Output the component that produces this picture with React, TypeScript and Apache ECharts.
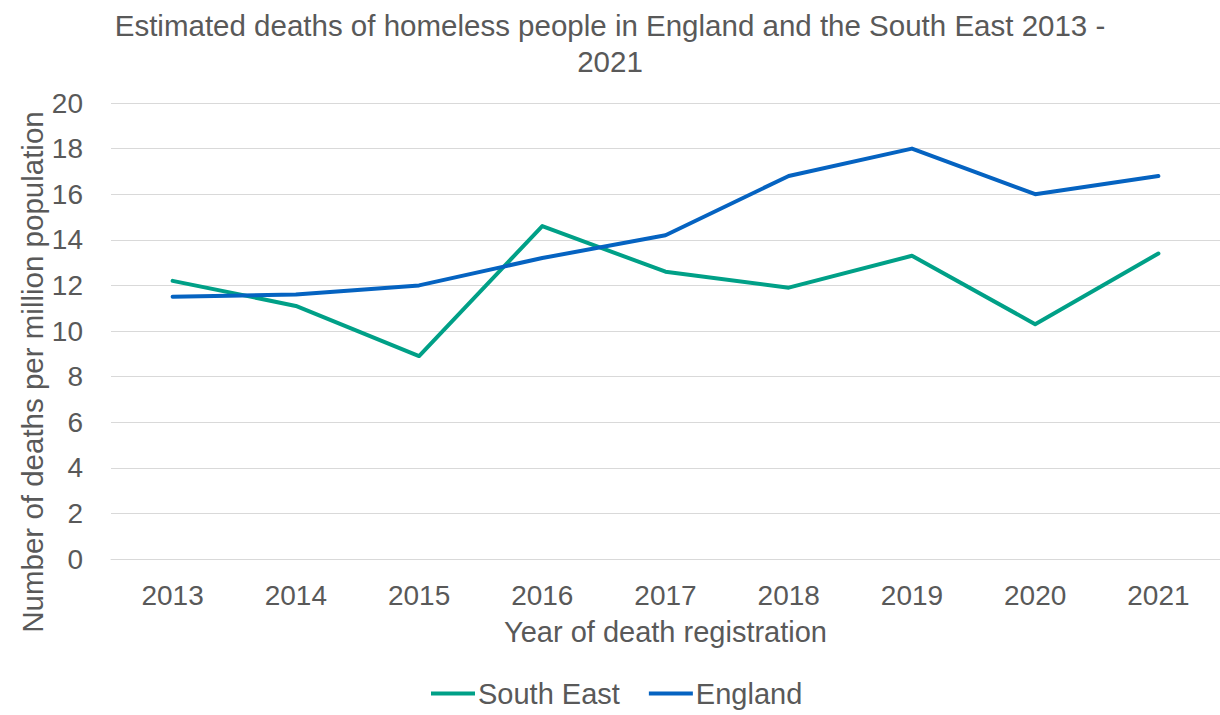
import React, { useEffect, useRef } from "react";
import * as echarts from "echarts";

const years = ["2013", "2014", "2015", "2016", "2017", "2018", "2019", "2020", "2021"];
const southEast = [12.2, 11.1, 8.9, 14.6, 12.6, 11.9, 13.3, 10.3, 13.4];
const england = [11.5, 11.6, 12.0, 13.2, 14.2, 16.8, 18.0, 16.0, 16.8];
const yTicks = { min: 0, max: 20, interval: 2 };

const FONT = "'Liberation Sans', Arial, sans-serif";
const GREY = "#595959";

export default function App() {
  const ref = useRef<HTMLDivElement>(null);
  useEffect(() => {
    if (!ref.current) return;
    const chart = echarts.init(ref.current, undefined, { renderer: "svg" });
    chart.setOption({
      animation: false,
      textStyle: { fontFamily: FONT },
      title: {
        text: "Estimated deaths of homeless people in England and the South East 2013 -\n2021",
        left: "center",
        top: 2,
        textStyle: { fontFamily: FONT, fontSize: 29.5, fontWeight: "normal", color: GREY, lineHeight: 36 },
      },
      grid: { left: 111, top: 103, width: 1111, height: 456, containLabel: false },
      xAxis: {
        type: "category",
        data: years,
        boundaryGap: true,
        axisLine: { show: true, lineStyle: { color: "#D9D9D9", width: 1 } },
        axisTick: { show: false },
        axisLabel: { color: GREY, fontSize: 28, fontFamily: FONT, margin: 22 },
        name: "Year of death registration",
        nameLocation: "middle",
        nameGap: 58,
        nameTextStyle: { color: GREY, fontSize: 29, fontFamily: FONT },
      },
      yAxis: {
        type: "value",
        min: yTicks.min,
        max: yTicks.max,
        interval: yTicks.interval,
        axisLine: { show: false },
        axisTick: { show: false },
        splitLine: { lineStyle: { color: "#D9D9D9", width: 1 } },
        axisLabel: { color: GREY, fontSize: 28, fontFamily: FONT, margin: 28 },
      },
      legend: {
        bottom: 2,
        left: 426,
        itemWidth: 44,
        itemHeight: 4,
        itemGap: 29,
        icon: "rect",
        textStyle: { color: GREY, fontSize: 29, fontFamily: FONT, padding: [0, 0, 0, -2] },
        data: ["South East", "England"],
      },
      graphic: [
        {
          type: "text",
          x: 32,
          y: 372,
          rotation: Math.PI / 2,
          style: {
            text: "Number of deaths per million population",
            fontSize: 29.5,
            fontFamily: FONT,
            fill: GREY,
            align: "center",
            verticalAlign: "middle",
          },
        },
      ],
      series: [
        {
          name: "South East",
          type: "line",
          data: southEast,
          symbol: "none",
          lineStyle: { color: "#00A087", width: 4, cap: "round", join: "round" },
          itemStyle: { color: "#00A087" },
        },
        {
          name: "England",
          type: "line",
          data: england,
          symbol: "none",
          lineStyle: { color: "#0563C1", width: 4, cap: "round", join: "round" },
          itemStyle: { color: "#0563C1" },
        },
      ],
    });
    return () => chart.dispose();
  }, []);
  return <div ref={ref} style={{ width: 1220, height: 715, position: "absolute", left: 0, top: 0 }} />;
}
